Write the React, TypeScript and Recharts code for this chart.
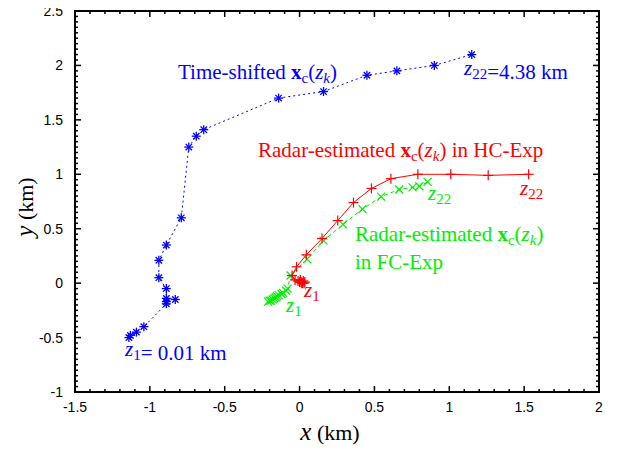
import { ScatterChart, Scatter, XAxis, YAxis, Customized } from 'recharts';

// time-shifted trajectory (blue)
const shiftedX = [-1.14, -1.13, -1.09, -1.04, -0.89, -0.89, -0.83, -0.89, -0.89, -0.94, -0.94, -0.89, -0.79, -0.74, -0.69, -0.64, -0.14, 0.16, 0.45, 0.65, 0.9, 1.15];
const shiftedY = [-0.5, -0.48, -0.45, -0.4, -0.19, -0.17, -0.15, -0.14, -0.05, 0.05, 0.21, 0.35, 0.6, 1.25, 1.35, 1.41, 1.7, 1.76, 1.91, 1.95, 2.0, 2.1];

// radar-estimated, HC-Exp (red)
const hcX = [0.03, 0.035, 0.02, 0.025, 0.01, 0.015, 0.0, 0.005, -0.01, -0.03, -0.05, -0.02, 0.045, 0.15, 0.255, 0.36, 0.48, 0.61, 0.79, 1.01, 1.26, 1.53];
const hcY = [0.0, 0.01, 0.0, 0.02, 0.01, 0.0, 0.01, 0.03, 0.02, 0.03, 0.07, 0.15, 0.26, 0.41, 0.575, 0.74, 0.87, 0.96, 1.0, 1.0, 0.99, 1.0];

// radar-estimated, FC-Exp (green)
const fcX = [-0.21, -0.2, -0.19, -0.18, -0.17, -0.16, -0.15, -0.14, -0.12, -0.11, -0.09, -0.08, -0.06, 0.05, 0.16, 0.29, 0.42, 0.545, 0.665, 0.755, 0.8, 0.855];
const fcY = [-0.17, -0.16, -0.16, -0.15, -0.14, -0.13, -0.12, -0.11, -0.1, -0.09, -0.07, -0.05, 0.07, 0.22, 0.39, 0.54, 0.68, 0.795, 0.86, 0.88, 0.89, 0.93];

const xTicks = [-1.5, -1, -0.5, 0, 0.5, 1, 1.5, 2];
const yTicks = [-1, -0.5, 0, 0.5, 1, 1.5, 2, 2.5];

const xMinor: number[] = [];
for (let i = -15; i <= 20; i++) xMinor.push(i / 10);
const yMinor: number[] = [];
for (let i = -20; i <= 50; i++) yMinor.push(i / 20);

const toPts = (xs: number[], ys: number[]) => xs.map((x, i) => ({ x, y: ys[i] }));
const shifted = toPts(shiftedX, shiftedY);
const hc = toPts(hcX, hcY);
const fc = toPts(fcX, fcY);

const BLUE = 'blue';
const RED = 'red';
const GREEN = '#00ee00';
const INK = 'black';

// plot box (matches the chart margins below)
const L = 75;
const T = 11;
const R = 599;
const B = 392;
const px = (v: number) => L + ((v + 1.5) / 3.5) * (R - L);
const py = (v: number) => B - ((v + 1) / 3.5) * (B - T);

const isMajor = (v: number, ticks: number[]) => ticks.some((t) => Math.abs(t - v) < 1e-6);

const Star = (props: any) => {
  const { cx, cy } = props;
  const r = 4.5;
  const d = 3.2;
  return (
    <g stroke={BLUE} strokeWidth={1.3}>
      <line x1={cx - r} y1={cy} x2={cx + r} y2={cy} />
      <line x1={cx} y1={cy - r} x2={cx} y2={cy + r} />
      <line x1={cx - d} y1={cy - d} x2={cx + d} y2={cy + d} />
      <line x1={cx - d} y1={cy + d} x2={cx + d} y2={cy - d} />
    </g>
  );
};

const Plus = (props: any) => {
  const { cx, cy } = props;
  const r = 5;
  return (
    <g stroke={RED} strokeWidth={1.2}>
      <line x1={cx - r} y1={cy} x2={cx + r} y2={cy} />
      <line x1={cx} y1={cy - r} x2={cx} y2={cy + r} />
    </g>
  );
};

const Cross = (props: any) => {
  const { cx, cy } = props;
  const r = 4;
  return (
    <g stroke={GREEN} strokeWidth={1.2}>
      <line x1={cx - r} y1={cy - r} x2={cx + r} y2={cy + r} />
      <line x1={cx - r} y1={cy + r} x2={cx + r} y2={cy - r} />
    </g>
  );
};

const BottomTick = (props: any) => {
  const { x, y, payload } = props;
  if (!isMajor(payload.value, xTicks)) return <g />;
  return (
    <text x={x} y={y + 20} textAnchor="middle" fontSize={14} fontFamily="Liberation Sans, Arial, sans-serif" fill={INK}>
      {payload.value}
    </text>
  );
};

const LeftTick = (props: any) => {
  const { x, y, payload } = props;
  if (!isMajor(payload.value, yTicks)) return <g />;
  return (
    <text x={x - 12} y={y + 5} textAnchor="end" fontSize={14} fontFamily="Liberation Sans, Arial, sans-serif" fill={INK}>
      {payload.value}
    </text>
  );
};

// box and inward ticks on all four sides, drawn as filled thin rects
const Frame = () => (
  <g fill={INK} stroke="none">
    <rect x={L - 1} y={T - 1} width={R - L + 2} height={2} />
    <rect x={L - 1} y={B - 1} width={R - L + 2} height={2} />
    <rect x={L - 1} y={T - 1} width={2} height={B - T + 2} />
    <rect x={R - 1} y={T - 1} width={2} height={B - T + 2} />
    {xMinor.map((v) => {
      const len = isMajor(v, xTicks) ? 6 : 3;
      const x = px(v);
      return (
        <g key={'x' + v}>
          <rect x={x - 0.75} y={B - len} width={1.5} height={len} />
          <rect x={x - 0.75} y={T} width={1.5} height={len} />
        </g>
      );
    })}
    {yMinor.map((v) => {
      const len = isMajor(v, yTicks) ? 6 : 3;
      const y = py(v);
      return (
        <g key={'y' + v}>
          <rect x={L} y={y - 0.75} width={len} height={1.5} />
          <rect x={R - len} y={y - 0.75} width={len} height={1.5} />
        </g>
      );
    })}
  </g>
);

const serif = 'Liberation Serif, Times New Roman, serif';

const Xc = () => (
  <>
    <tspan fontWeight="bold">x</tspan>
    <tspan fontSize={15} dy={4}>c</tspan>
    <tspan dy={-4}>(</tspan>
    <tspan fontStyle="italic">z</tspan>
    <tspan fontStyle="italic" fontSize={15} dy={4}>k</tspan>
    <tspan dy={-4}>)</tspan>
  </>
);

const Z = ({ sub }: { sub: string }) => (
  <>
    <tspan fontStyle="italic">z</tspan>
    <tspan fontSize={15} dy={4}>{sub}</tspan>
    <tspan dy={-4}></tspan>
  </>
);

const Annotations = () => (
  <g fontFamily={serif}>
    <text x={178} y={79} fontSize={21} fill={BLUE}>
      Time-shifted <Xc />
    </text>
    <text x={464} y={75} fontSize={21} fill={BLUE}>
      <Z sub="22" />=4.38 km
    </text>
    <text x={125} y={356} fontSize={21} fill={BLUE}>
      <Z sub="1" />= 0.01 km
    </text>
    <text x={258} y={157} fontSize={21} fill={RED}>
      Radar-estimated <Xc /> in HC-Exp
    </text>
    <text x={520} y={195} fontSize={21} fill={RED}>
      <Z sub="22" />
    </text>
    <text x={304} y={297} fontSize={21} fill={RED}>
      <Z sub="1" />
    </text>
    <text x={355} y={241} fontSize={21} fill={GREEN}>
      Radar-estimated <Xc />
    </text>
    <text x={355} y={269} fontSize={21} fill={GREEN}>
      in FC-Exp
    </text>
    <text x={428} y={200} fontSize={21} fill={GREEN}>
      <Z sub="22" />
    </text>
    <text x={286} y={312} fontSize={21} fill={GREEN}>
      <Z sub="1" />
    </text>
    <text x={330} y={440} textAnchor="middle" fontSize={22} fill={INK}>
      <tspan fontStyle="italic" fontSize={25}>x</tspan> (km)
    </text>
    <text x={0} y={0} textAnchor="middle" fontSize={22} fill={INK} transform="translate(33,207) rotate(-90)">
      <tspan fontStyle="italic" fontSize={25}>y</tspan> (km)
    </text>
  </g>
);

const App = () => {
  return (
    <div style={{ marginLeft: -8, marginTop: -8, width: 617, height: 449 }}>
      <ScatterChart width={617} height={449} margin={{ top: 11, right: 18, bottom: 17, left: 15 }}>
        <XAxis
          type="number"
          dataKey="x"
          domain={[-1.5, 2]}
          ticks={xMinor}
          interval={0}
          height={40}
          tickSize={0}
          tickMargin={0}
          tickLine={false}
          axisLine={false}
          tick={<BottomTick />}
        />
        <YAxis
          type="number"
          dataKey="y"
          domain={[-1, 2.5]}
          ticks={yMinor}
          interval={0}
          width={60}
          tickSize={0}
          tickMargin={0}
          tickLine={false}
          axisLine={false}
          tick={<LeftTick />}
        />
        <Scatter
          data={shifted}
          line={{ stroke: BLUE, strokeWidth: 1, strokeDasharray: '2 3' }}
          lineType="joint"
          shape={<Star />}
          isAnimationActive={false}
        />
        <Scatter
          data={fc}
          line={{ stroke: GREEN, strokeWidth: 1, strokeDasharray: '4 3' }}
          lineType="joint"
          shape={<Cross />}
          isAnimationActive={false}
        />
        <Scatter
          data={hc}
          line={{ stroke: RED, strokeWidth: 1 }}
          lineType="joint"
          shape={<Plus />}
          isAnimationActive={false}
        />
        <Customized component={Frame} />
        <Customized component={Annotations} />
      </ScatterChart>
    </div>
  );
};

export default App;
